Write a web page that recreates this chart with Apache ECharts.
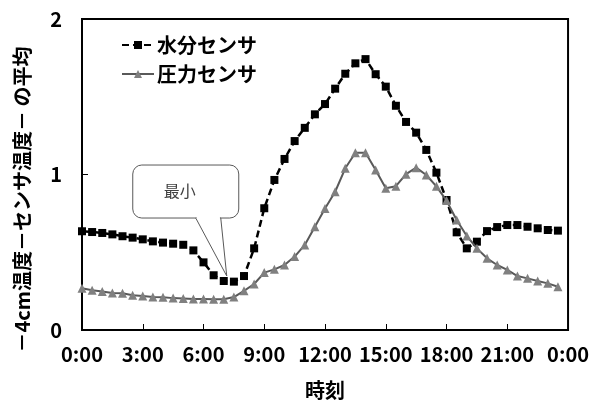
<!DOCTYPE html>
<html>
<head>
<meta charset="utf-8">
<script src="https://cdn.jsdelivr.net/npm/echarts@6/dist/echarts.min.js"></script>
<style>html,body{margin:0;padding:0;background:#fff;}#c{width:592px;height:405px;}</style>
</head>
<body>
<div id="c"></div>
<script>
// half-hourly values, 0:00 .. 23:30
const waterSensor = [0.635,0.630,0.624,0.615,0.603,0.594,0.583,0.570,0.562,0.555,0.548,0.512,0.435,0.352,0.315,0.311,0.347,0.525,0.783,0.965,1.100,1.215,1.300,1.387,1.453,1.552,1.648,1.715,1.742,1.645,1.565,1.442,1.338,1.269,1.158,1.012,0.836,0.628,0.525,0.568,0.636,0.662,0.675,0.675,0.664,0.654,0.643,0.639];
const pressureSensor = [0.268,0.255,0.247,0.238,0.236,0.224,0.219,0.212,0.210,0.205,0.203,0.200,0.200,0.198,0.198,0.212,0.252,0.296,0.369,0.390,0.418,0.472,0.547,0.664,0.782,0.889,1.040,1.140,1.140,1.029,0.911,0.925,1.002,1.044,0.997,0.924,0.832,0.707,0.605,0.525,0.461,0.418,0.386,0.347,0.332,0.315,0.300,0.278];
const stepHours = 0.5;
const tickLabels = ['0:00','3:00','6:00','9:00','12:00','15:00','18:00','21:00','0:00'];
const seriesNames = ['水分センサ','圧力センサ'];
const yTicks = [0,1,2];
const calloutText = '最小';
const minIndex = 14;

const FONT = '"Noto Sans CJK JP", "Noto Sans", sans-serif';
const toPairs = arr => arr.map((v, i) => [i * stepHours, v]);

const chart = echarts.init(document.getElementById('c'), null, {renderer: 'canvas'});
chart.setOption({
  animation: false,
  backgroundColor: '#fff',
  grid: {left: 82, right: 22, top: 19, bottom: 75, show: true, borderColor: '#000', borderWidth: 2},
  legend: {
    left: 116, top: 30, orient: 'vertical', itemGap: 9, itemWidth: 32, itemHeight: 10,
    textStyle: {fontFamily: FONT, fontSize: 20, fontWeight: 'bold', color: '#000', padding: [0,0,0,-2]},
    data: seriesNames
  },
  xAxis: {
    type: 'value', min: 0, max: 24, interval: 3,
    name: '時刻', nameLocation: 'middle', nameGap: 50,
    nameTextStyle: {fontFamily: FONT, fontSize: 20, fontWeight: 'bold', color: '#000'},
    axisLine: {lineStyle: {color: '#000', width: 2}},
    axisTick: {inside: true, length: 6, lineStyle: {color: '#000', width: 1}},
    axisLabel: {fontFamily: FONT, fontSize: 20, fontWeight: 'bold', color: '#000', margin: 14,
      formatter: v => tickLabels[Math.round(v / 3)]},
    splitLine: {show: false}
  },
  yAxis: {
    type: 'value', min: yTicks[0], max: yTicks[yTicks.length - 1], interval: 1,
    name: '－4cm温度－センサ温度－ の平均', nameLocation: 'middle', nameGap: 50, nameRotate: 90,
    nameTextStyle: {fontFamily: FONT, fontSize: 20, fontWeight: 'bold', color: '#000', padding: [0, 50, 0, 0]},
    axisLine: {lineStyle: {color: '#000', width: 2}},
    axisTick: {inside: true, length: 6, lineStyle: {color: '#000', width: 1}},
    axisLabel: {fontFamily: FONT, fontSize: 20, fontWeight: 'bold', color: '#000', margin: 20},
    splitLine: {show: false}
  },
  series: [
    {
      name: seriesNames[0], type: 'line', data: toPairs(waterSensor),
      symbol: 'rect', symbolSize: 8,
      itemStyle: {color: '#000'},
      lineStyle: {color: '#000', width: 2.5, type: [7, 4]},
      z: 2
    },
    {
      name: seriesNames[1], type: 'line', data: toPairs(pressureSensor),
      symbol: 'triangle', symbolSize: 9,
      itemStyle: {color: '#808080'},
      lineStyle: {color: '#595959', width: 2},
      z: 3
    }
  ]
});

// callout anchored to the minimum point of the water sensor series
const p = chart.convertToPixel({seriesIndex: 0}, [minIndex * stepHours, waterSensor[minIndex]]);
const tx = p[0] + 3, ty = p[1] - 5;
const L = tx - 94, R = tx + 12, T = ty - 111, B = ty - 58;
const b1 = tx - 31, b2 = tx - 6;
chart.setOption({
  graphic: [
    {type: 'rect', shape: {x: L, y: T, width: R - L, height: B - T, r: 9},
      style: {fill: '#fff', stroke: '#595959', lineWidth: 1}, z: 10},
    {type: 'polygon', shape: {points: [[b1, B], [tx, ty], [b2, B]]},
      style: {fill: '#fff', stroke: '#595959', lineWidth: 1}, z: 11},
    {type: 'line', shape: {x1: b1 + 0.8, y1: B, x2: b2 - 0.8, y2: B},
      style: {stroke: '#fff', lineWidth: 2}, z: 12},
    {type: 'text', x: (L + R) / 2 - 6, y: T + 26, z: 13,
      style: {text: calloutText, fontFamily: FONT, fontSize: 16, fill: '#404040', align: 'center', verticalAlign: 'middle'}}
  ]
});
</script>
</body>
</html>
